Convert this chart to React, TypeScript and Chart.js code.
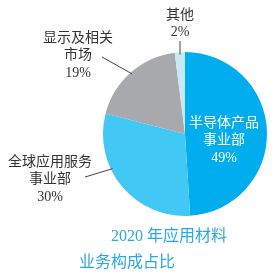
import React, { useEffect, useRef } from "react";
import { Chart, registerables } from "chart.js";

Chart.register(...registerables);

const categories = ["半导体产品事业部", "全球应用服务事业部", "显示及相关市场", "其他"];
const shares = [49, 30, 19, 2];
const colors = ["#00AEEF", "#42C8F4", "#A7A9AC", "#C6E9F8"];
const labelLines = [["半导体产品", "事业部", "49%"], ["全球应用服务", "事业部", "30%"], ["显示及相关", "市场", "19%"], ["其他", "2%"]];
const titleLines = ["2020 年应用材料", "业务构成占比"];

const FONT = "'Liberation Serif', 'Noto Sans CJK SC', serif";

export default function App() {
  const ref = useRef<HTMLCanvasElement>(null);
  useEffect(() => {
    if (!ref.current) return;
    const labelPos = [
      { x: 224, y: 123, color: "#ffffff" },
      { x: 50, y: 162, color: "#333333" },
      { x: 78, y: 38, color: "#333333" },
      { x: 180, y: 15, color: "#333333" },
    ];
    const leaders: Record<number, { from: [number, number]; frac: number; rf: number }> = {
      1: { from: [85, 177], frac: 0.63, rf: 0.98 },
      2: { from: [102, 57], frac: 0.5, rf: 0.98 },
      3: { from: [180, 41], frac: 0.5, rf: 0.97 },
    };
    const plugin = {
      id: "labels",
      afterDraw(chart: any) {
        const ctx = chart.ctx as CanvasRenderingContext2D;
        const meta = chart.getDatasetMeta(0);
        ctx.save();
        ctx.strokeStyle = "#444";
        ctx.lineWidth = 1;
        Object.keys(leaders).forEach((k) => {
          const i = Number(k);
          const arc = meta.data[i] as any;
          const p = arc.getProps(["x", "y", "startAngle", "endAngle", "outerRadius"], true);
          const L = leaders[i];
          const a = p.startAngle + (p.endAngle - p.startAngle) * L.frac;
          const r = p.outerRadius * L.rf;
          ctx.beginPath();
          ctx.moveTo(L.from[0], L.from[1]);
          ctx.lineTo(p.x + r * Math.cos(a), p.y + r * Math.sin(a));
          ctx.stroke();
        });
        ctx.textAlign = "center";
        ctx.textBaseline = "middle";
        ctx.font = `14px ${FONT}`;
        labelLines.forEach((lines, i) => {
          const lp = labelPos[i];
          ctx.fillStyle = lp.color;
          lines.forEach((t, j) => {
            ctx.fillText(t, lp.x, lp.y + j * 17.5);
          });
        });
        ctx.fillStyle = "#2AA9E0";
        ctx.font = `16px ${FONT}`;
        ctx.fillText(titleLines[0], 169, 237);
        ctx.fillText(titleLines[1], 127, 263);
        ctx.restore();
      },
    };
    const chart = new Chart(ref.current, {
      type: "pie",
      data: {
        labels: categories,
        datasets: [{ data: shares, backgroundColor: colors, borderWidth: 0 }],
      },
      options: {
        animation: false,
        responsive: false,
        layout: { padding: { left: 103, right: 12, top: 52, bottom: 61 } },
        plugins: { legend: { display: false }, tooltip: { enabled: false } },
      },
      plugins: [plugin],
    });
    return () => chart.destroy();
  }, []);
  return (
    <div style={{ position: "absolute", left: 0, top: 0, width: 279, height: 277, background: "#fff" }}>
      <canvas ref={ref} width={279} height={277} />
    </div>
  );
}
